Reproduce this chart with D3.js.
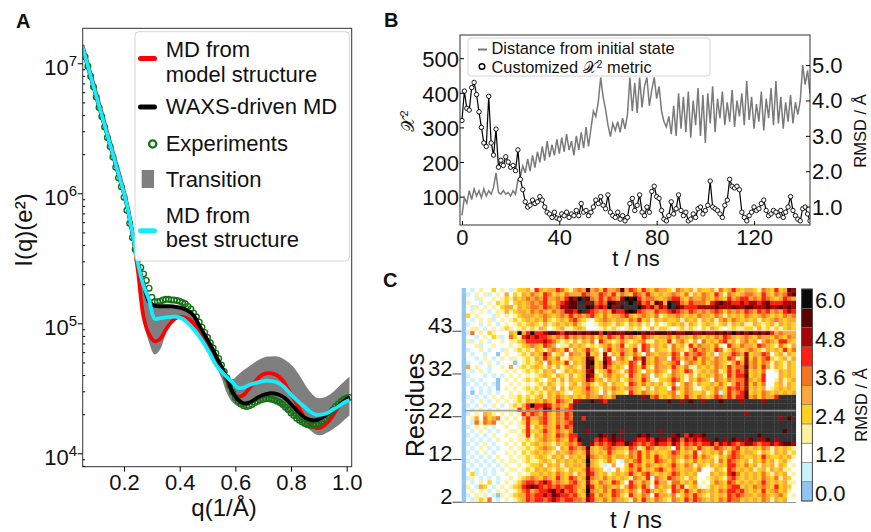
<!DOCTYPE html>
<html><head><meta charset="utf-8">
<script src="https://cdn.jsdelivr.net/npm/d3@7/dist/d3.min.js"></script>
<style>
body{margin:0;background:#fff;}
svg text{font-family:"Liberation Sans",Arial,Helvetica,sans-serif;fill:#111;}
</style></head>
<body>
<svg id="fig" width="871" height="532"></svg>
<script>
// ===================== DATA =====================
// Panel A : scattering intensities (log10 of I(q))
const qModel = [0.05,0.07,0.09,0.11,0.13,0.15,0.17,0.19,0.21,0.23,0.25,0.27,0.29,0.31,0.33,0.35,0.37,0.39,0.41,0.43,0.45,0.47,0.49,0.51,0.53,0.55,0.57,0.59,0.61,0.63,0.65,0.67,0.69,0.71,0.73,0.75,0.77,0.79,0.81,0.83,0.85,0.87,0.89,0.91,0.93,0.95,0.97,0.99,1.01];
const log10I_mdModel = [7.14,6.99,6.84,6.69,6.54,6.39,6.24,6.09,5.92,5.70,5.40,5.05,4.915,4.862,4.88,4.95,5.01,5.045,5.05,5.035,5.0,4.955,4.88,4.81,4.73,4.65,4.555,4.47,4.435,4.45,4.50,4.55,4.595,4.615,4.615,4.60,4.56,4.49,4.42,4.345,4.27,4.22,4.195,4.20,4.235,4.29,4.355,4.41,4.44];
const log10I_waxsMD = [7.125,6.975,6.82,6.67,6.52,6.37,6.22,6.07,5.91,5.69,5.47,5.30,5.165,5.135,5.13,5.13,5.13,5.125,5.115,5.095,5.06,4.985,4.91,4.835,4.752,4.666,4.58,4.47,4.41,4.385,4.39,4.415,4.44,4.455,4.462,4.455,4.437,4.40,4.355,4.31,4.275,4.258,4.255,4.275,4.30,4.33,4.365,4.40,4.43];
const log10I_mdBest = [7.13,6.98,6.825,6.675,6.525,6.375,6.225,6.075,5.915,5.695,5.46,5.29,5.18,5.035,5.04,5.045,5.05,5.05,5.035,5.0,4.955,4.90,4.835,4.76,4.68,4.63,4.585,4.545,4.505,4.505,4.525,4.54,4.55,4.558,4.555,4.545,4.52,4.475,4.43,4.39,4.355,4.318,4.298,4.298,4.31,4.335,4.36,4.39,4.41];
const log10I_transLow = [7.105,6.955,6.80,6.65,6.50,6.35,6.20,6.05,5.89,5.67,5.38,5.02,4.85,4.76,4.80,4.92,5.00,5.03,5.03,5.01,4.97,4.89,4.82,4.75,4.67,4.58,4.46,4.39,4.36,4.355,4.37,4.39,4.40,4.41,4.40,4.38,4.35,4.31,4.275,4.24,4.21,4.175,4.145,4.14,4.16,4.185,4.215,4.255,4.29];
const log10I_transHigh = [7.145,6.995,6.84,6.69,6.54,6.39,6.24,6.09,5.93,5.72,5.50,5.32,5.18,5.155,5.155,5.15,5.145,5.14,5.13,5.11,5.07,4.99,4.93,4.85,4.76,4.67,4.59,4.57,4.605,4.64,4.67,4.70,4.725,4.742,4.745,4.745,4.73,4.70,4.66,4.60,4.53,4.47,4.43,4.425,4.44,4.47,4.51,4.55,4.59];
const qExp = [0.06,0.07,0.08,0.09,0.10,0.11,0.12,0.13,0.14,0.15,0.16,0.17,0.18,0.19,0.20,0.21,0.22,0.23,0.24,0.25,0.26,0.27,0.28,0.29,0.30,0.31,0.32,0.33,0.34,0.35,0.36,0.37,0.38,0.39,0.40,0.41,0.42,0.43,0.44,0.45,0.46,0.47,0.48,0.49,0.50,0.51,0.52,0.53,0.54,0.55,0.56,0.57,0.58,0.59,0.60,0.61,0.62,0.63,0.64,0.65,0.66,0.67,0.68,0.69,0.70,0.71,0.72,0.73,0.74,0.75,0.76,0.77,0.78,0.79,0.80,0.81,0.82,0.83,0.84,0.85,0.86,0.87,0.88,0.89,0.90,0.91,0.92,0.93,0.94,0.95,0.96,0.97,0.98,0.99,1.00,1.01];
const log10I_exp = [7.05,6.98,6.90,6.82,6.74,6.66,6.59,6.51,6.43,6.36,6.28,6.20,6.12,6.05,5.97,5.87,5.77,5.66,5.57,5.49,5.43,5.38,5.33,5.27,5.20,5.165,5.165,5.17,5.18,5.185,5.185,5.18,5.18,5.175,5.17,5.16,5.15,5.13,5.11,5.08,5.05,5.01,4.97,4.93,4.89,4.85,4.81,4.77,4.73,4.68,4.63,4.58,4.52,4.47,4.43,4.40,4.38,4.365,4.36,4.365,4.375,4.39,4.40,4.41,4.415,4.42,4.42,4.415,4.41,4.40,4.39,4.375,4.355,4.335,4.31,4.29,4.27,4.255,4.24,4.23,4.22,4.215,4.215,4.22,4.23,4.245,4.265,4.29,4.31,4.335,4.36,4.38,4.40,4.415,4.425,4.43];
const qTicks = [0.2,0.4,0.6,0.8,1.0];
const intensityTicks = [1e4,1e5,1e6,1e7];
const legendA = ["MD from\nmodel structure","WAXS-driven MD","Experiments","Transition","MD from\nbest structure"];

// Panel B : time series, one sample per ns
const timeNs = d3.range(0,144);
const rmsdDistance = [0.75,1.25,1.10,1.45,1.20,1.50,1.30,1.45,1.25,1.50,
 1.30,1.45,1.35,1.55,1.95,1.40,1.35,1.45,1.35,1.40,
 1.30,1.45,1.35,1.75,1.85,2.15,1.95,2.35,2.00,2.45,
 2.10,2.55,2.25,2.70,2.30,2.85,2.40,2.75,2.45,2.90,
 2.50,2.95,2.55,3.05,2.60,2.85,2.45,3.00,2.60,3.10,
 2.65,3.25,2.70,3.20,3.70,3.55,3.95,4.65,4.10,3.75,
 3.30,2.98,3.35,3.15,3.40,3.10,3.50,3.20,3.60,4.65,
 3.70,4.50,3.65,4.65,3.80,4.40,4.65,3.85,4.30,4.65,
 4.05,4.40,3.70,3.40,3.25,3.55,3.05,3.85,3.00,4.20,
 3.20,4.10,3.10,4.25,2.95,4.00,3.30,4.35,3.00,4.15,
 2.80,4.20,3.35,4.40,3.10,4.05,3.50,4.25,3.30,3.95,
 3.40,4.30,3.25,4.00,3.55,4.20,3.30,4.55,3.45,4.10,
 3.20,3.90,3.40,4.25,3.15,4.05,3.50,4.35,3.30,4.55,
 3.35,4.10,3.20,3.95,3.40,4.15,3.35,3.95,3.60,4.00,
 5.00,4.45,4.85,4.20];
const chi2Metric = [320,405,355,350,415,430,395,345,300,255,
 245,390,255,220,295,185,205,190,215,200,
 185,190,175,235,150,120,85,70,75,90,
 80,85,100,90,70,55,50,40,55,38,
 35,50,45,55,40,50,45,60,45,80,
 55,60,45,55,70,90,80,100,75,65,
 105,55,45,40,55,35,45,30,40,80,
 95,60,75,105,55,45,70,55,115,130,
 100,95,60,35,30,45,85,50,65,105,
 60,45,55,30,35,50,40,65,70,50,
 60,75,145,70,65,60,50,40,75,90,
 150,130,125,130,120,55,40,30,45,55,
 70,60,65,80,90,60,45,50,60,55,
 45,60,40,55,70,100,60,45,35,30,
 65,70,50,30];
const tTicks = [0,40,80,120];
const chi2Ticks = [100,200,300,400,500];
const rmsdTicks = [1,2,3,4,5];

// Panel C : per-residue RMSD levels (each digit = level k -> k*0.6 Å, a = 6.0, b = above 6.0)
// rows from top (residue 51) to bottom (residue 2), columns = time frames
const residueRows = [
"0 21232242321 34453 7545576435 6595647556 9576475465 5436545354 4536457545 54365474598",
"0 12323123252 43546 5476454655 5765576574 6547657545 4565463546 5475365456 65475465689",
"0 22132232343 54565 6575565798 ab96575765 8a9a756654 5677546556 5465475677 56576545765",
"0 32212324342 45456 5675467899 bb8b676a98 bbab867598 5ab8657666 4789887787 88789777888",
"0 21323232455 35456 6576568899 bba9787a8b 9bbba87868 7ab9877788 8898889889 98889889898",
"0 23232123353 45546 5654656887 9b87656587 79a9765576 6787657656 5676465657 65767565787",
"0 42322213232 34555 4565456575 6567546455 6754565463 4556545465 5465354546 54565454656",
"0 21232312323 43454 5464345467 5432456545 5465745354 5445354535 4535646545 45354565455",
"0 12212321232 34345 4353454546 4322345435 4354534242 3454535434 5434535453 35434535454",
"0 23321232343 23434 3542345334 5422234343 2343423534 4323434324 3543234334 43534343454",
"0 16232432225 4a57a 7789987989 898997a898 899a989899 9898899889 889898a898 98989756555",
"0 22123243126 43787 8776565756 5656465765 7565476545 5646554654 5465765456 54655465465",
"0 31232122323 34577 7787643435 3546275434 6434563354 4735643526 4546745356 45256547754",
"0 22312232223 23456 5476523354 5434345645 7345376454 5364537465 5463275465 54765436435",
"0 12232122132 34343 5435654735 4575425745 6547376254 4365435756 5476346545 65435454746",
"0 21221220232 23435 4586345265 5484538354 7546426545 5476375676 4525457658 45576245354",
"0 22123212323 32343 5475463354 4598438725 6437685465 5276465746 5465476348 46467434535",
"0 12212321222 02343 4526454735 459a459754 5476385465 4567256546 4565435758 56465354354",
"0 52322122325 23434 5435353454 3598458645 4276474365 5475463354 5465475669 56475354354",
"0 21232122232 32343 4354523545 4589345754 3576425465 4265476345 4563475768 45462235454",
"0 12221212123 23232 3454354353 4598435645 4375465254 3465435354 5465375779 45472225454",
"0 21212220232 32343 4324535354 4587453545 3465475324 4576425465 4265465668 54572235345",
"0 12121210223 23232 3435434245 3564345354 4376464545 3462465354 4546435768 46462245354",
"0 21212120232 32343 4354525354 4575435465 4565435354 4275465324 5465476768 45452345454",
"0 20212121223 23234 3435454324 4565425354 4375465454 4563465445 3461475679 45465454545",
"0 12121232323 34343 4535465454 546556546b bbbbb8b674 5465475465 4576575779 5646557bbbb",
"0 21232123232 34354 5465476548 8bb9b87bbb bbbbbbbbbb b9bb8b9bb8 bbb9bbbb8b bbb8bbbbbbb",
"0 12121232123 4357a 778756547b bbbbbbbbbb bbbbbbbbbb bbbbbbbbbb bbbbbbbbbb bbbbbbbbbbb",
"0 21232123223 37476 769857567b bbbbbbbbbb bbbbbbbbbb bbbbbbbbbb bbbbbbbbbb bbbbbbbbbbb",
"0 12325432323 23757 657546576b bbbbbbbbbb bbbbbbbbbb bbbbbbbbbb bbbbbbbbb8 bbbbbbbbbbb",
"0 23526456232 32575 567546576b b7bbbbbbbb bbbbbbbbbb bbbbbbbbbb bbbbbbbbbb bbbbbbb8b9b",
"0 21636562323 23474 467546567b bbbbbbbbbb bbbbbbbbbb bbbbbbbbbb bbbbbbbbbb bbbbbbbbbbb",
"0 12323212232 23373 546547576b bbbbbbbbbb bbbbbbbbbb bbbbbbbbbb bbbbbbbbbb bbbbbbbbbbb",
"0 21232121223 32474 457546546b bb8bbbbbbb 8bbbbbbbb8 bbbbbbbbbb bbbbbbbbbb bbbbbbbb9bb",
"0 12121232232 23373 5465476577 bbbbb98b9b bbbb989bbb bb89b79889 bbbbbbbbbb bb9bbbbbbbb",
"0 21212123223 23343 4565465476 9bbb787898 8bb8778798 8798687878 8b9b8b98b8 9b889b8bbbb",
"0 12123212232 32434 5454354565 7bb8676787 7987676787 7687576767 7868787678 87677878998",
"0 21232121223 23343 4565425476 5695456765 5476347645 5427465475 4576546745 45465354543",
"0 12123212232 32434 5454354565 4585454754 4365746454 4576454735 4546357645 54354354534",
"0 21212123223 23343 4543545354 5496545645 5465746475 4565465746 5435467654 45475445453",
"0 12121212323 32343 3454354545 45a5434642 1546745476 5464354645 4536476545 35464534532",
"0 21212121232 23234 4535453545 5495431252 2475646545 4575465354 3545477546 45354535423",
"0 12121212123 32343 5454354354 4586542125 3465745467 5465455462 2354376454 53453545332",
"0 24121212232 23234 4545465453 5487545345 4575467545 4576454522 2545478645 45464354523",
"0 13212121223 23456 5465475476 4596546454 5436547265 4765435422 3454367545 45465463542",
"0 21232421232 34677 6787565467 5485465476 4275465375 5366454623 2465476454 54575454533",
"0 32154212323 45789 8767676776 5497456545 3576475264 5475734532 3545467745 46565474542",
"0 23232123232 34675 6778978676 45a6546476 5465367545 4276475465 4546577675 45474564532",
"0 12323210323 45576 7787987767 5497465476 4375465275 5463465754 3545476765 54565456423",
"0 21343621232 34576 7767876776 6587546465 5436475465 4365475765 4546576645 45465354522"
];
const residueTop = 51, residueBottom = 2;
const residueTicks = [2,12,22,32,42];
const residueTickLabels = ["2","12","22","32","43"];
const markedResidues = [23.3, 42];
const colorbarTicks = [0.0,1.2,2.4,3.6,4.8,6.0];
const rmsdLevelStep = 0.6;

// ===================== DRAW =====================
const svg = d3.select('#fig');
const FS = 22;
const defs = svg.append('defs');
function section(name, fn){ try { fn(); } catch(e){ console.error(name, e); } }

// ---------- Panel A ----------
section('A', ()=>{
const fA = {l:82.7, r:351.7, t:28.3, b:466.7};
const xA = d3.scaleLinear().domain([0.0514, 1.018]).range([fA.l, fA.r]);
const yA = d3.scaleLog().domain([7890, 1.858e7]).range([fA.b, fA.t]);
const gA = svg.append('g');
defs.append('clipPath').attr('id','clipA').append('rect')
  .attr('x',fA.l).attr('y',fA.t).attr('width',fA.r-fA.l).attr('height',fA.b-fA.t);
const pA = gA.append('g').attr('clip-path','url(#clipA)');
const curveA = d3.curveCatmullRom.alpha(0.5);
pA.append('path')
  .datum(qModel.map((q,i)=>({q:q, lo:log10I_transLow[i], hi:log10I_transHigh[i]})))
  .attr('d', d3.area().x(p=>xA(p.q)).y0(p=>yA(10**p.lo)).y1(p=>yA(10**p.hi)).curve(curveA))
  .attr('fill','#7f7f7f');
const lineA = d3.line().x(p=>xA(p[0])).y(p=>yA(10**p[1])).curve(curveA);
function drawA(vals, color){
  pA.append('path').datum(qModel.map((q,i)=>[q,vals[i]])).attr('d',lineA)
    .attr('fill','none').attr('stroke',color).attr('stroke-width',3.8).attr('stroke-linejoin','round');
}
drawA(log10I_mdModel,'#ff0000');
pA.selectAll('circle.exp').data(qExp.map((q,i)=>[q,log10I_exp[i]])).join('circle')
  .attr('class','exp').attr('cx',p=>xA(p[0])).attr('cy',p=>yA(10**p[1])).attr('r',2.8)
  .attr('fill','none').attr('stroke','#117311').attr('stroke-width',1.4);
drawA(log10I_waxsMD,'#000000');
drawA(log10I_mdBest,'#14ecff');
gA.append('rect').attr('x',fA.l).attr('y',fA.t).attr('width',fA.r-fA.l).attr('height',fA.b-fA.t)
  .attr('fill','none').attr('stroke','#333').attr('stroke-width',1);
const axXA = gA.append('g').attr('transform',`translate(0,${fA.b})`)
  .call(d3.axisBottom(xA).tickValues(qTicks).tickFormat(d3.format('.1f')).tickSizeInner(5).tickSizeOuter(0).tickPadding(3));
axXA.select('.domain').remove();
axXA.attr('font-size',FS).attr('font-family',null);
const axYA = gA.append('g').attr('transform',`translate(${fA.l},0)`)
  .call(d3.axisLeft(yA).tickValues(intensityTicks).tickFormat(()=>'').tickSizeInner(5).tickSizeOuter(0));
axYA.select('.domain').remove();
const minorA = [];
[3,4,5,6,7].forEach(k=>{ for(let m=2;m<=9;m++){ const v=m*10**k; if(v>7890 && v<1.858e7) minorA.push(v);} });
const axYAm = gA.append('g').attr('transform',`translate(${fA.l},0)`)
  .call(d3.axisLeft(yA).tickValues(minorA).tickFormat(()=>'').tickSizeInner(-2.5).tickSizeOuter(0));
axYAm.select('.domain').remove();
intensityTicks.forEach(v=>{
  const t = gA.append('text').attr('x',fA.l-5.5).attr('y',yA(v)+11.5).attr('text-anchor','end').attr('font-size',FS);
  t.append('tspan').text('10');
  t.append('tspan').attr('dy',-9).attr('font-size',15).text(Math.round(Math.log10(v)));
});
gA.append('text').attr('x',224).attr('y',516).attr('text-anchor','middle').attr('font-size',24).text('q(1/Å)');
gA.append('text').attr('transform','translate(32,230) rotate(-90)').attr('text-anchor','middle').attr('font-size',24)
  .text('I(q)(e²)');
svg.append('text').attr('x',16).attr('y',28).attr('font-size',20).attr('font-weight','bold').text('A');
const lgA = gA.append('g');
lgA.append('rect').attr('x',135).attr('y',31.7).attr('width',214.3).attr('height',229.3).attr('rx',4)
  .attr('fill','#fff').attr('fill-opacity',0.9).attr('stroke','#d4d4d4').attr('stroke-width',1);
const lgText = (lines, y0) => {
  const t = lgA.append('text').attr('x',165.7).attr('y',y0).attr('font-size',FS);
  lines.split('\n').forEach((s,i)=> t.append('tspan').attr('x',165.7).attr('dy', i? 24.6 : 0).text(s));
};
const lgLine = (y,color)=> lgA.append('line').attr('x1',140.5).attr('x2',154.5).attr('y1',y).attr('y2',y)
  .attr('stroke',color).attr('stroke-width',5).attr('stroke-linecap','round');
lgLine(58.5,'#ff0000'); lgText(legendA[0],57.2);
lgLine(107,'#000000'); lgText(legendA[1],114);
lgA.append('circle').attr('cx',152.7).attr('cy',144).attr('r',3.6).attr('fill','none').attr('stroke','#117311').attr('stroke-width',2.3);
lgText(legendA[2],150.5);
lgA.append('rect').attr('x',141.7).attr('y',170).attr('width',12.3).attr('height',18).attr('fill','#7f7f7f');
lgText(legendA[3],187);
lgLine(230.8,'#14ecff'); lgText(legendA[4],222.7);
});

// ---------- Panel B ----------
section('B', ()=>{
const fB = {l:460, r:810, t:35, b:225};
const xB = d3.scaleLinear().domain([-0.8,143]).range([fB.l,fB.r]);
const yChi = d3.scaleLinear().domain([18,567]).range([fB.b,fB.t]);
const yRm = d3.scaleLinear().domain([0.48,5.85]).range([fB.b,fB.t]);
const gB = svg.append('g');
defs.append('clipPath').attr('id','clipB').append('rect')
  .attr('x',fB.l).attr('y',fB.t).attr('width',fB.r-fB.l).attr('height',fB.b-fB.t);
const pB = gB.append('g').attr('clip-path','url(#clipB)');
pB.append('path').datum(timeNs.map((t,i)=>[t,rmsdDistance[i]]))
  .attr('d', d3.line().x(p=>xB(p[0])).y(p=>yRm(p[1])))
  .attr('fill','none').attr('stroke','#7a7a7a').attr('stroke-width',1.5);
pB.append('path').datum(timeNs.map((t,i)=>[t,chi2Metric[i]]))
  .attr('d', d3.line().x(p=>xB(p[0])).y(p=>yChi(p[1])))
  .attr('fill','none').attr('stroke','#000').attr('stroke-width',1.2);
pB.selectAll('circle.chi').data(timeNs.map((t,i)=>[t,chi2Metric[i]])).join('circle')
  .attr('class','chi').attr('cx',p=>xB(p[0])).attr('cy',p=>yChi(p[1])).attr('r',2.2)
  .attr('fill','#fff').attr('stroke','#000').attr('stroke-width',0.9);
gB.append('rect').attr('x',fB.l).attr('y',fB.t).attr('width',fB.r-fB.l).attr('height',fB.b-fB.t)
  .attr('fill','none').attr('stroke','#333').attr('stroke-width',1);
const axXB = gB.append('g').attr('transform',`translate(0,${fB.b})`)
  .call(d3.axisBottom(xB).tickValues(tTicks).tickFormat(d3.format('d')).tickSizeInner(-4).tickSizeOuter(0).tickPadding(4));
axXB.select('.domain').remove(); axXB.attr('font-size',FS).attr('font-family',null);
const axYB = gB.append('g').attr('transform',`translate(${fB.l},0)`)
  .call(d3.axisLeft(yChi).tickValues(chi2Ticks).tickFormat(d3.format('d')).tickSizeInner(-4).tickSizeOuter(0).tickPadding(1));
axYB.select('.domain').remove(); axYB.attr('font-size',FS).attr('font-family',null);
axYB.selectAll('text').attr('dy','0.38em');
const axYB2 = gB.append('g').attr('transform',`translate(${fB.r},0)`)
  .call(d3.axisRight(yRm).tickValues(rmsdTicks).tickFormat(d3.format('.1f')).tickSizeInner(-4).tickSizeOuter(0).tickPadding(2));
axYB2.select('.domain').remove(); axYB2.attr('font-size',FS).attr('font-family',null);
axYB2.selectAll('text').attr('dy','0.34em');
gB.append('text').attr('x',636).attr('y',266).attr('text-anchor','middle').attr('font-size',22).text('t / ns');
gB.append('text').attr('transform','translate(866,131) rotate(-90)').attr('text-anchor','middle').attr('font-size',16.5).text('RMSD / Å');
const chiLab = gB.append('text').attr('transform','translate(414,121) rotate(-90)').attr('text-anchor','middle').attr('font-size',17);
chiLab.append('tspan').text('𝒳');
chiLab.append('tspan').attr('dy',-6).attr('font-size',11).text('2');
svg.append('text').attr('x',384).attr('y',26.7).attr('font-size',20).attr('font-weight','bold').text('B');
const lgB = gB.append('g');
lgB.append('rect').attr('x',468).attr('y',38).attr('width',242).attr('height',38).attr('rx',3)
  .attr('fill','#fff').attr('fill-opacity',0.85).attr('stroke','#d4d4d4');
lgB.append('line').attr('x1',478).attr('x2',487).attr('y1',49.5).attr('y2',49.5).attr('stroke','#7a7a7a').attr('stroke-width',2);
lgB.append('text').attr('x',491.5).attr('y',53.8).attr('font-size',16.4).text('Distance from initial state');
lgB.append('circle').attr('cx',482).attr('cy',66.5).attr('r',2.8).attr('fill','#fff').attr('stroke','#000').attr('stroke-width',1.4);
const lgB2 = lgB.append('text').attr('x',491.5).attr('y',73).attr('font-size',16.4);
lgB2.append('tspan').text('Customized ');
lgB2.append('tspan').text('𝒳');
lgB2.append('tspan').attr('dy',-5).attr('font-size',10.5).text('2');
lgB2.append('tspan').attr('dy',5).text(' metric');
});

// ---------- Panel C ----------
section('C', ()=>{
const grid = residueRows.map(r=>r.replace(/ /g,''));
const nCols = d3.max(grid, r=>r.length);
const xC = d3.scaleBand().domain(d3.range(nCols)).range([461.7,795.7]);
const yRes = d3.scaleLinear().domain([residueBottom, residueTop+1]).range([501.7,288]);
const levelColors = ['#90c4f2','#cdf2fb','#ffffff','#fef2a0','#fed21e','#f9a93a','#f7741f','#fe2012','#a50505','#580202','#0a0a0a'];
const overColor = '#323232';
const thresholds = d3.range(0,11).map(k=>k*rmsdLevelStep+rmsdLevelStep/2);
const colorC = d3.scaleThreshold().domain(thresholds).range(levelColors.concat([overColor]));
const cells = [];
grid.forEach((row,ri)=>{
  const res = residueTop - ri;
  for(let ci=0; ci<row.length; ci++){
    const ch = row[ci];
    const lvl = ch==='b' ? 11 : parseInt(ch,16);
    cells.push({c:ci, res:res, v: lvl*rmsdLevelStep});
  }
});
const gC = svg.append('g');
gC.selectAll('rect.cell').data(cells).join('rect').attr('class','cell')
  .attr('x',p=>xC(p.c)).attr('width',xC.bandwidth()+0.35)
  .attr('y',p=>yRes(p.res+1)).attr('height',p=>yRes(p.res)-yRes(p.res+1)+0.35)
  .attr('fill',p=>colorC(p.v));
gC.selectAll('line.mark').data(markedResidues).join('line').attr('class','mark')
  .attr('x1',465).attr('x2',795.7).attr('y1',p=>yRes(p)).attr('y2',p=>yRes(p))
  .attr('stroke',(p,i)=> i===0 ? '#9c9c9c' : '#f4e6dc').attr('stroke-width',(p,i)=> i===0 ? 1.6 : 1).attr('opacity',0.9);
gC.append('line').attr('x1',461).attr('x2',796).attr('y1',502.5).attr('y2',502.5).attr('stroke','#999').attr('stroke-width',1.2);
const axC = gC.append('g').attr('transform','translate(461.5,0)')
  .call(d3.axisLeft(yRes).tickValues(residueTicks).tickFormat((p,i)=>residueTickLabels[i]).tickSizeInner(9).tickSizeOuter(0).tickPadding(0));
axC.select('.domain').remove(); axC.attr('font-size',FS).attr('font-family',null);
axC.selectAll('text').attr('dy','0.08em');
axC.selectAll('line').attr('stroke','#444');
gC.append('text').attr('x',636).attr('y',528).attr('text-anchor','middle').attr('font-size',24).text('t / ns');
gC.append('text').attr('transform','translate(424,405) rotate(-90)').attr('text-anchor','middle').attr('font-size',25).text('Residues');
svg.append('text').attr('x',383).attr('y',286.5).attr('font-size',20).attr('font-weight','bold').text('C');
const cbY = d3.scaleLinear().domain([-rmsdLevelStep/2, 10*rmsdLevelStep+rmsdLevelStep/2]).range([501,289]);
const cbLevels = d3.range(0,11);
gC.selectAll('rect.cb').data(cbLevels).join('rect').attr('class','cb')
  .attr('x',801.7).attr('width',10.6)
  .attr('y',k=>cbY(k*rmsdLevelStep+rmsdLevelStep/2)).attr('height',k=>cbY(k*rmsdLevelStep-rmsdLevelStep/2)-cbY(k*rmsdLevelStep+rmsdLevelStep/2))
  .attr('fill',k=>levelColors[k]).attr('stroke','#777').attr('stroke-width',0.6);
gC.append('rect').attr('x',801.7).attr('width',10.6).attr('y',289).attr('height',212).attr('fill','none').attr('stroke','#333').attr('stroke-width',0.8);
gC.selectAll('text.cbl').data(colorbarTicks).join('text').attr('class','cbl')
  .attr('x',815).attr('y',v=>cbY(v)+9.5).attr('font-size',FS).text(v=>v.toFixed(1));
gC.append('text').attr('transform','translate(867,405) rotate(-90)').attr('text-anchor','middle').attr('font-size',16.5).text('RMSD / Å');
});
</script>
</body></html>
